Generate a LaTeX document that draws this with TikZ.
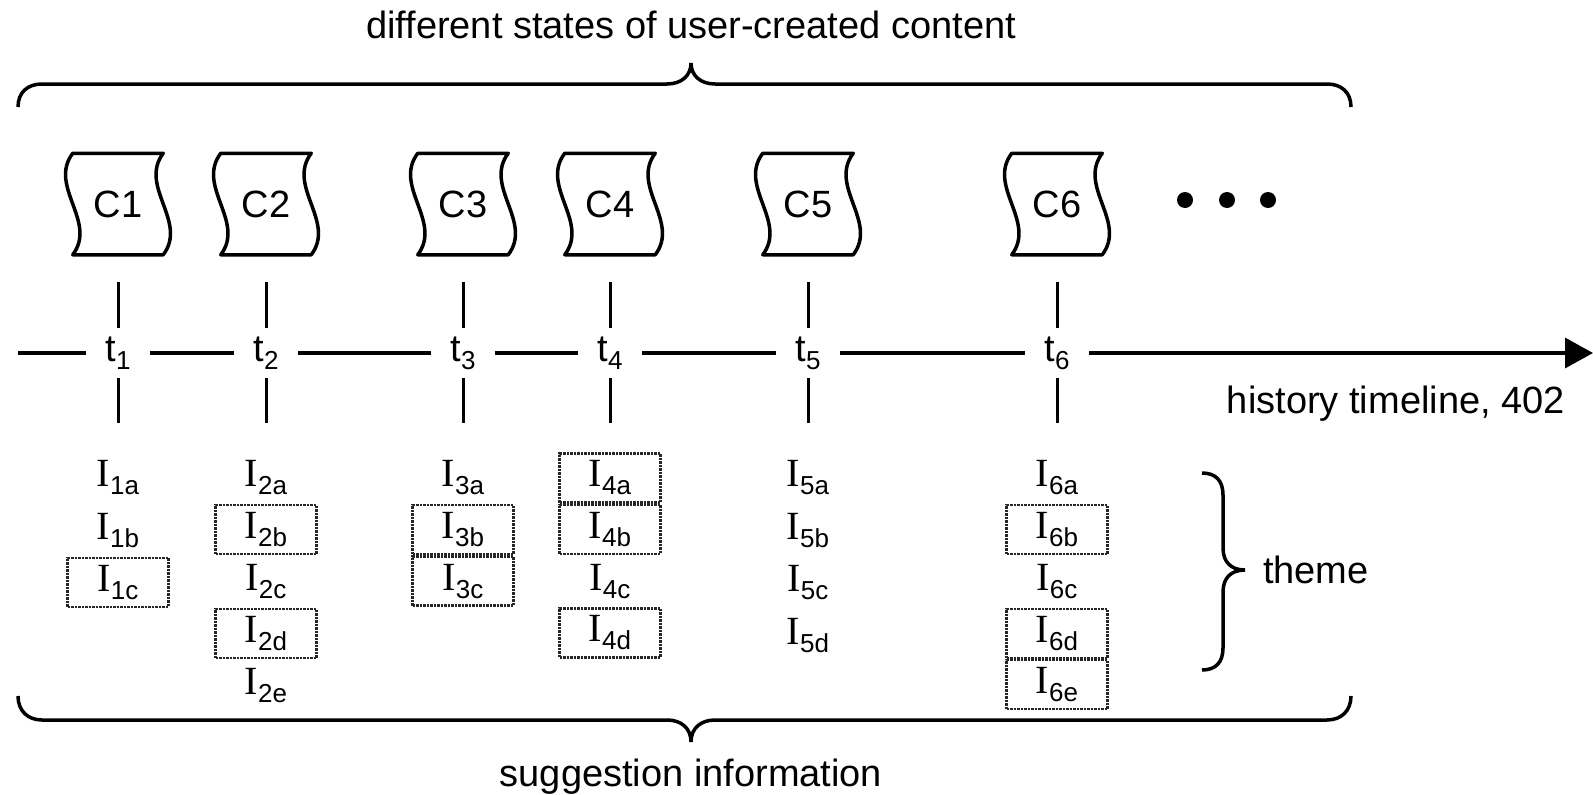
\documentclass[tikz,border=0pt]{standalone}
\usepackage{fontspec}
\setmainfont{Liberation Sans}
\newfontfamily\ifont{Liberation Serif}
\usetikzlibrary{arrows.meta,calc,positioning}

\newcommand{\txt}{\fontsize{38}{44}\selectfont}
\newcommand{\lowsub}[1]{\raisebox{-8pt}{\fontsize{26}{28}\selectfont #1}}
\newcommand{\Il}[1]{{\ifont\fontsize{40}{44}\selectfont I}\lowsub{#1}}
% content state: flat top and bottom, wavy sides
\newcommand{\wavy}[1]{%
  \draw[line join=round] (#1.north west) -- (#1.north east)
    .. controls +(-25,33) and +(25,-33) .. (#1.south east)
    -- (#1.south west)
    .. controls +(25,-33) and +(-25,33) .. (#1.north west) -- cycle;}

\begin{document}
\begin{tikzpicture}[
    x=1pt, y=-1pt,
    line width=3.5pt,
    every node/.style={font=\txt},
    state/.style={minimum width=87pt, minimum height=98pt, inner sep=0},
    tlab/.style={inner xsep=18pt, inner ysep=0},
    tick/.style={line width=3pt},
    info/.style={minimum width=101pt, minimum height=49pt, inner sep=0},
    picked/.style={info, draw=black!85, line width=2.2pt, dash pattern=on 2.5pt off 1pt},
  ]
  \useasboundingbox (0,0) rectangle (1593,795);

  \node (states) at (691,25) {different states of user-created content};

  % states and times
  \foreach \n/\x in {1/118,2/266,3/463,4/610,5/808,6/1057} {
    \node[state] (c\n) at (\x,204) {C\n};
    \wavy{c\n}
    \node[tlab] (t\n) at (\x,353) {t\lowsub{\n}};
    \draw[tick] ($(t\n)+(0,-71)$) -- ($(t\n)+(0,-25)$);
    \draw[tick] ($(t\n)+(0,25)$) -- ($(t\n)+(0,70)$);
  }
  \foreach \x in {1185,1227,1268}
    \fill (\x,200) circle[radius=8pt];

  % timeline
  \coordinate (tl0) at (18,353);
  \coordinate (tlend) at (1593,353);
  \draw[-{Triangle[length=28pt,width=30pt]}] (tl0) -- (t1) -- (t2) -- (t3)
    -- (t4) -- (t5) -- (t6) -- (tlend);
  \node[anchor=east] (hist) at (1570,404) {history timeline, 402};

  % suggestion information
  \node[info] (i1a) at (118,478) {\Il{1a}};
  \node[info] (i1b) [below=0pt of i1a] {\Il{1b}};
  \node[picked] (i1c) [below=0pt of i1b] {\Il{1c}};

  \node[info] (i2a) at (266,478) {\Il{2a}};
  \node[picked] (i2b) [below=0pt of i2a] {\Il{2b}};
  \node[info] (i2c) [below=0pt of i2b] {\Il{2c}};
  \node[picked] (i2d) [below=0pt of i2c] {\Il{2d}};
  \node[info] (i2e) [below=0pt of i2d] {\Il{2e}};

  \node[info] (i3a) at (463,478) {\Il{3a}};
  \node[picked] (i3b) [below=0pt of i3a] {\Il{3b}};
  \node[picked] (i3c) [below=0pt of i3b] {\Il{3c}};

  \node[picked] (i4a) at (610,478) {\Il{4a}};
  \node[picked] (i4b) [below=0pt of i4a] {\Il{4b}};
  \node[info] (i4c) [below=0pt of i4b] {\Il{4c}};
  \node[picked] (i4d) [below=0pt of i4c] {\Il{4d}};

  \node[info] (i5a) at (808,478) {\Il{5a}};
  \node[info] (i5b) [below=0pt of i5a] {\Il{5b}};
  \node[info] (i5c) [below=0pt of i5b] {\Il{5c}};
  \node[info] (i5d) [below=0pt of i5c] {\Il{5d}};

  \node[info] (i6a) at (1057,478) {\Il{6a}};
  \node[picked] (i6b) [below=0pt of i6a] {\Il{6b}};
  \node[info] (i6c) [below=0pt of i6b] {\Il{6c}};
  \node[picked] (i6d) [below=0pt of i6c] {\Il{6d}};
  \node[picked] (i6e) [below=0pt of i6d] {\Il{6e}};

  % braces
  \draw (18,107) .. controls (18,92) and (28,84) .. (42,84) -- (667,84)
    .. controls (681,84) and (691,76) .. (691,63)
    .. controls (691,76) and (701,84) .. (715,84) -- (1327,84)
    .. controls (1341,84) and (1351,92) .. (1351,107);
  \draw (18,696) .. controls (18,711) and (28,720) .. (42,720) -- (667,720)
    .. controls (681,720) and (691,728) .. (691,742)
    .. controls (691,728) and (701,720) .. (715,720) -- (1327,720)
    .. controls (1341,720) and (1351,711) .. (1351,696);
  \draw (1202,473) .. controls (1216,473) and (1223,481) .. (1223,495) -- (1223,548)
    .. controls (1223,562) and (1231,570) .. (1245,570)
    .. controls (1231,570) and (1223,578) .. (1223,592) -- (1223,648)
    .. controls (1223,662) and (1216,670) .. (1202,670);
  \node[anchor=west] (theme) at (1258,570) {theme};
  \node (sugg) at (691,777) {suggestion information};
\end{tikzpicture}
\end{document}
